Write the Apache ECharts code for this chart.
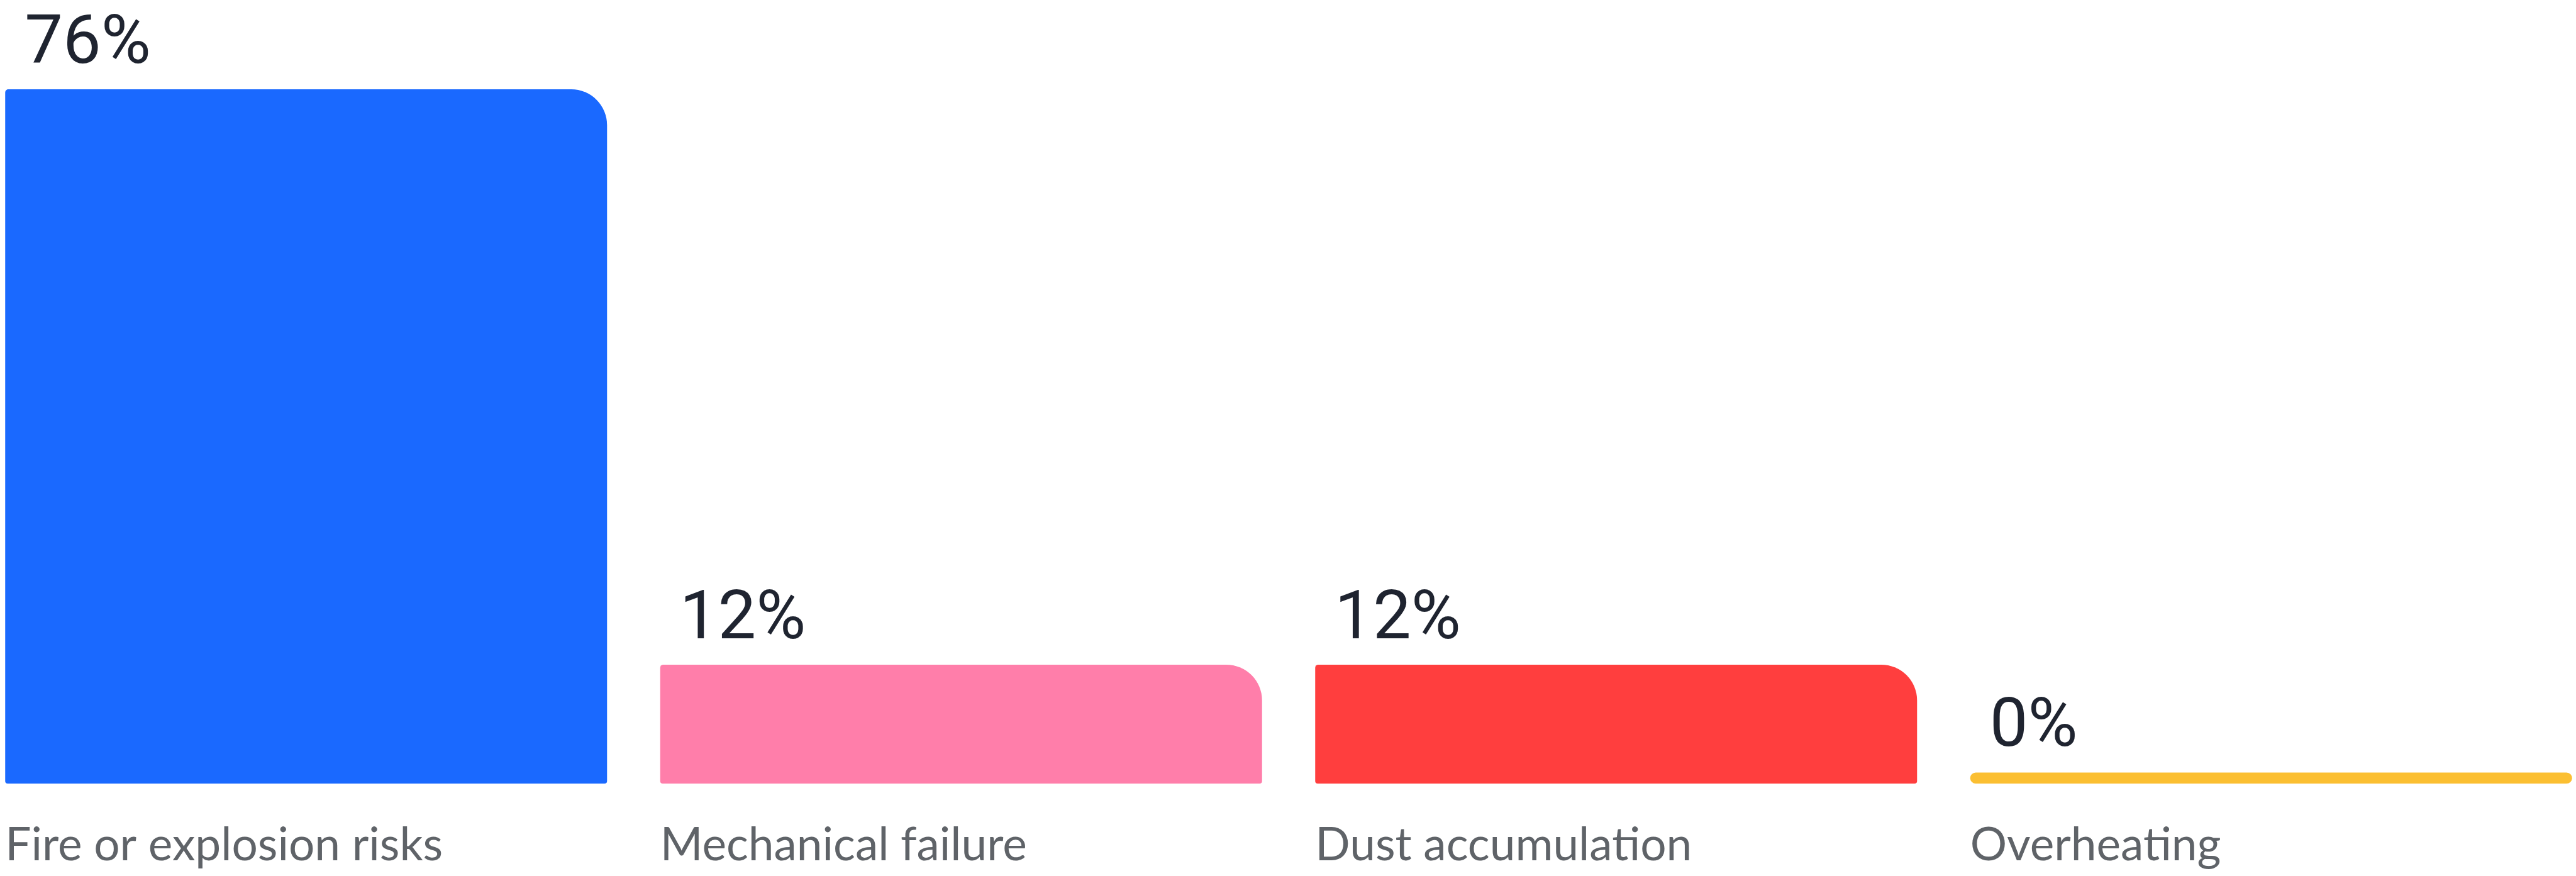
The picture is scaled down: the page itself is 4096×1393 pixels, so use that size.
<!DOCTYPE html>
<html><head><meta charset="utf-8">
<script src="https://cdn.jsdelivr.net/npm/echarts@6/dist/echarts.min.js"></script>
<style>html,body{margin:0;padding:0;background:#fff}#c{width:4096px;height:1393px}</style>
</head><body><div id="c"></div>
<script>
const categories = ['Fire or explosion risks', 'Mechanical failure', 'Dust accumulation', 'Overheating'];
const values = [76, 12, 12, 0];
const palette = ['#1a69ff', '#ff7eaa', '#ff3e3e', '#fbbf32'];

const chart = echarts.init(document.getElementById('c'), null, {renderer: 'canvas'});
const BAR_W = 957;
chart.setOption({
  animation: false,
  backgroundColor: '#ffffff',
  grid: {left: -34, right: -36, top: 142, bottom: 147, containLabel: false, outerBoundsMode: 'none'},
  xAxis: {
    type: 'category',
    data: categories,
    axisLine: {show: false},
    axisTick: {show: false},
    splitLine: {show: false},
    axisLabel: {
      interval: 0,
      align: 'left',
      verticalAlign: 'middle',
      margin: 98,
      padding: [0, 0, 0, -BAR_W / 2],
      fontSize: 73,
      color: '#5f6368',
      fontFamily: 'Lato, Roboto, sans-serif'
    }
  },
  yAxis: {
    type: 'value',
    min: -1.23,
    max: 76,
    startValue: -1.23,
    show: false,
    splitLine: {show: false}
  },
  series: [{
    type: 'bar',
    barWidth: BAR_W,
    data: values.map((v, i) => ({
      value: v,
      itemStyle: {color: palette[i], borderRadius: v === 0 ? 9 : [5, 57, 4, 4]}
    })),
    label: {
      show: true,
      position: [31, -69],
      align: 'left',
      verticalAlign: 'middle',
      formatter: '{c}%',
      fontSize: 108,
      color: '#1f2430',
      fontFamily: "Roboto, 'Liberation Sans', Arial, sans-serif"
    }
  }]
});
</script></body></html>
